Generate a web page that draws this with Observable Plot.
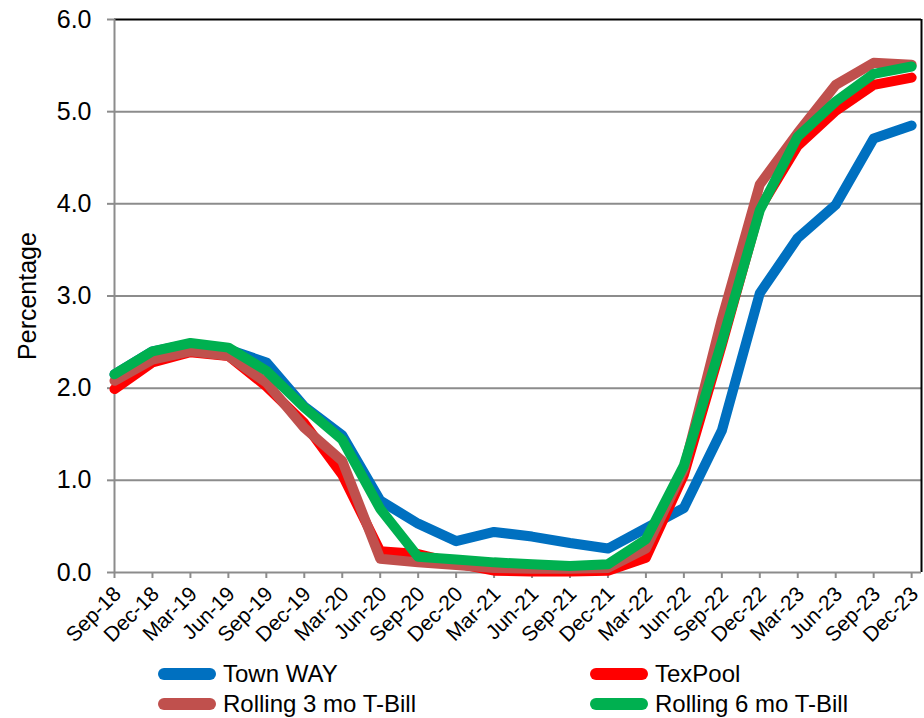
<!DOCTYPE html>
<html>
<head>
<meta charset="utf-8">
<script src="https://cdn.jsdelivr.net/npm/d3@7"></script>
<script src="https://cdn.jsdelivr.net/npm/@observablehq/plot@0.6"></script>
<style>
  html, body { margin: 0; padding: 0; background: #fff; }
  body { width: 924px; height: 718px; position: relative; font-family: "Liberation Sans", Arial, sans-serif; }
  #chart { position: absolute; left: 0; top: 0; }
  .legend { position: absolute; left: 0; top: 0; width: 924px; height: 718px; pointer-events: none; }
  .item { position: absolute; display: flex; align-items: center; font-size: 24px; color: #000; white-space: nowrap; }
  .item svg { margin-right: 7px; }
</style>
</head>
<body>
<div id="chart"></div>
<div class="legend" id="legend"></div>
<script>
const quarters = ["Sep-18","Dec-18","Mar-19","Jun-19","Sep-19","Dec-19","Mar-20","Jun-20","Sep-20","Dec-20","Mar-21","Jun-21","Sep-21","Dec-21","Mar-22","Jun-22","Sep-22","Dec-22","Mar-23","Jun-23","Sep-23","Dec-23"];
const townWay   = [2.15,2.40,2.48,2.42,2.28,1.80,1.49,0.78,0.53,0.34,0.44,0.39,0.32,0.26,0.48,0.70,1.54,3.03,3.63,3.99,4.71,4.85];
const texPool   = [1.99,2.28,2.39,2.35,2.02,1.62,1.06,0.23,0.20,0.10,0.02,0.01,0.01,0.02,0.16,1.06,2.47,3.95,4.63,5.01,5.29,5.37];
const tBill3    = [2.08,2.31,2.40,2.35,2.06,1.57,1.21,0.15,0.11,0.08,0.05,0.04,0.04,0.05,0.26,1.12,2.75,4.21,4.77,5.29,5.53,5.51];
const tBill6    = [2.15,2.40,2.49,2.44,2.19,1.79,1.44,0.69,0.17,0.14,0.11,0.09,0.07,0.09,0.36,1.16,2.50,3.93,4.73,5.11,5.41,5.49];
const seriesNames = ["Town WAY","TexPool","Rolling 3 mo T-Bill","Rolling 6 mo T-Bill"];
const seriesColors = ["#0070C0","#FF0000","#C0504D","#00B050"];
const yTicks = [0,1,2,3,4,5,6];

const seriesValues = [townWay, texPool, tBill3, tBill6];
const xMax = 21.26;

const lineMarks = seriesValues.map((vals, s) =>
  Plot.line(vals.map((v, i) => ({i, v})), {
    x: "i", y: "v", stroke: seriesColors[s], strokeWidth: 10,
    strokeLinecap: "round", strokeLinejoin: "round"
  })
);

const xTickValues = d3.range(quarters.length);

const chart = Plot.plot({
  width: 924,
  height: 650,
  marginLeft: 114,
  marginRight: 3,
  marginTop: 19,
  marginBottom: 78,
  style: { fontFamily: "'Liberation Sans', Arial, sans-serif", background: "#fff", color: "#000" },
  x: { domain: [0, xMax] },
  y: { domain: [0, 6] },
  marks: [
    Plot.ruleY(yTicks.filter(d => d > 0 && d < 6), { stroke: "#8c8c8c", strokeWidth: 2 }),
    Plot.ruleY([6], { stroke: "#000", strokeWidth: 2 }),
    Plot.ruleX([xMax], { stroke: "#000", strokeWidth: 2 }),
    Plot.ruleX([0], { stroke: "#8c8c8c", strokeWidth: 2 }),
    Plot.ruleY([0], { stroke: "#8c8c8c", strokeWidth: 2 }),
    Plot.axisY({
      ticks: yTicks, tickFormat: d => d.toFixed(1), tickSize: 7, tickPadding: 16,
      fontSize: 25, stroke: "#8c8c8c", strokeWidth: 2,
      label: "Percentage", labelAnchor: "center", labelArrow: "none", labelOffset: 96
    }),
    // tick marks only
    Plot.axisX({
      ticks: xTickValues, tickFormat: () => "", tickSize: 6,
      stroke: "#8c8c8c", strokeWidth: 2, label: null
    }),
    // rotated tick labels only
    Plot.axisX({
      ticks: xTickValues, tickFormat: i => quarters[i], tickSize: 0,
      tickRotate: -45, tickPadding: 18, fontSize: 21, dx: 3, label: null
    }),
    ...lineMarks
  ]
});
document.getElementById("chart").appendChild(chart);

// Legend below the chart
const legend = document.getElementById("legend");
const legendPos = [[158, 674], [590, 674], [158, 704], [590, 704]];
seriesNames.forEach((name, s) => {
  const div = document.createElement("div");
  div.className = "item";
  div.style.left = legendPos[s][0] + "px";
  div.style.top = (legendPos[s][1] - 14) + "px";
  div.innerHTML = `<svg width="58" height="28"><line x1="6" y1="14" x2="52" y2="14" stroke="${seriesColors[s]}" stroke-width="12" stroke-linecap="round"/></svg><span>${name}</span>`;
  legend.appendChild(div);
});
</script>
</body>
</html>
